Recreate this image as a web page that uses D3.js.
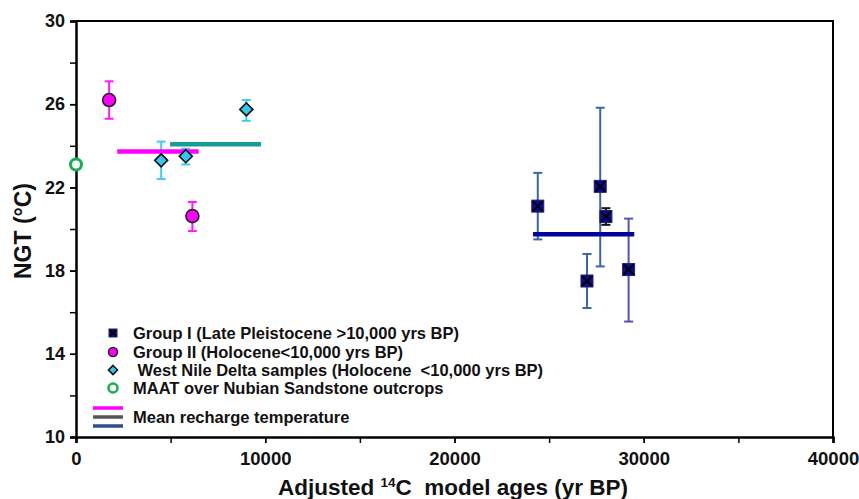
<!DOCTYPE html>
<html>
<head>
<meta charset="utf-8">
<script src="https://cdn.jsdelivr.net/npm/d3@7"></script>
<style>
  body { margin: 0; background: #fff; }
  svg { display: block; }
  text { font-family: "Liberation Sans", Arial, sans-serif; font-weight: bold; fill: #111; white-space: pre; }
</style>
</head>
<body>
<svg id="chart"></svg>
<script>
// Group I (Late Pleistocene) - age, NGT, error low/high
const groupIAge = [24400, 27700, 28000, 27000, 29200];
const groupINgt = [21.1, 22.05, 20.6, 17.5, 18.05];
const groupILo  = [19.5, 18.2, 20.2, 16.2, 15.55];
const groupIHi  = [22.7, 25.83, 21.0, 18.8, 20.5];

// Group II (Holocene)
const groupIIAge = [1750, 6150];
const groupIINgt = [26.2, 20.62];
const groupIILo  = [25.3, 19.9];
const groupIIHi  = [27.1, 21.3];

// West Nile Delta samples
const deltaAge = [4500, 5800, 9000];
const deltaNgt = [23.3, 23.5, 25.75];
const deltaLo  = [22.4, 23.1, 25.2];
const deltaHi  = [24.2, 23.86, 26.2];

// MAAT over Nubian Sandstone outcrops
const maatAge = [0];
const maatNgt = [23.1];

// mean recharge temperatures: [ageFrom, ageTo, ngt]
const meanGroupI = [24150, 29500, 19.75];
const meanGroupII = [2180, 6480, 23.73];
const meanDelta = [4970, 9780, 24.07];

const xTicks = [0, 10000, 20000, 30000, 40000];
const yTicks = [10, 14, 18, 22, 26, 30];

const legendLabels = [
    'Group I (Late Pleistocene >10,000 yrs BP)',
    'Group II (Holocene<10,000 yrs BP)',
    ' West Nile Delta samples (Holocene  <10,000 yrs BP)',
    'MAAT over Nubian Sandstone outcrops',
    'Mean recharge temperature'
];

const width = 859, height = 499;
const margin = { top: 21, right: 26, bottom: 62, left: 76 };

const svg = d3.select('#chart').attr('width', width).attr('height', height);

const x = d3.scaleLinear().domain([0, 40000]).range([margin.left, width - margin.right]);
const y = d3.scaleLinear().domain([10, 30]).range([height - margin.bottom, margin.top]);

// frame (top + right)
svg.append('path')
    .attr('d', `M${x(0)},${y(30)}H${x(40000)}V${y(10)}`)
    .attr('fill', 'none')
    .attr('stroke', '#000')
    .attr('stroke-width', 2);

// minor ticks
const xAxisMinor = d3.axisBottom(x).tickValues(d3.range(0, 40001, 5000)).tickSize(6).tickFormat('');
const yAxisMinor = d3.axisLeft(y).tickValues(d3.range(10, 31, 2)).tickSize(6).tickFormat('');
const gxm = svg.append('g').attr('transform', `translate(0,${y(10)})`).call(xAxisMinor);
const gym = svg.append('g').attr('transform', `translate(${x(0)},0)`).call(yAxisMinor);

// axes with labels
const gx = svg.append('g')
    .attr('transform', `translate(0,${y(10)})`)
    .call(d3.axisBottom(x).tickValues(xTicks).tickSize(6).tickPadding(9).tickFormat(d3.format('d')));
const gy = svg.append('g')
    .attr('transform', `translate(${x(0)},0)`)
    .call(d3.axisLeft(y).tickValues(yTicks).tickSize(6).tickPadding(5));

[gxm, gym, gx, gy].forEach(g => {
    g.select('.domain').attr('stroke', '#000').attr('stroke-width', 2);
    g.selectAll('.tick line').attr('stroke', '#000').attr('stroke-width', 1.5);
});
gx.selectAll('.tick text').style('font-size', '18.5px').attr('fill', '#111');
gy.selectAll('.tick text').style('font-size', '18px').attr('fill', '#111');

// axis titles
svg.append('text')
    .attr('transform', `translate(31,231) rotate(-90)`)
    .attr('text-anchor', 'middle')
    .style('font-size', '23px')
    .text('NGT (°C)');

const xt = svg.append('text')
    .attr('x', 453)
    .attr('y', 495)
    .attr('text-anchor', 'middle')
    .style('font-size', '22.5px');
xt.append('tspan').text('Adjusted ');
xt.append('tspan').attr('dy', -8).style('font-size', '13.5px').text('14');
xt.append('tspan').attr('dy', 8).text('C  model ages (yr BP)');

// helpers
function errorBars(ages, lo, hi, colors) {
    const g = svg.append('g');
    ages.forEach((a, i) => {
        const c = Array.isArray(colors) ? colors[i] : colors;
        g.append('line')
            .attr('x1', x(a)).attr('x2', x(a))
            .attr('y1', y(lo[i])).attr('y2', y(hi[i]))
            .attr('stroke', c).attr('stroke-width', 2);
        [lo[i], hi[i]].forEach(v => {
            g.append('line')
                .attr('x1', x(a) - 4.5).attr('x2', x(a) + 4.5)
                .attr('y1', y(v)).attr('y2', y(v))
                .attr('stroke', c).attr('stroke-width', 2);
        });
    });
}

function meanLine(m, color) {
    svg.append('line')
        .attr('x1', x(m[0])).attr('x2', x(m[1]))
        .attr('y1', y(m[2])).attr('y2', y(m[2]))
        .attr('stroke', color).attr('stroke-width', 4.5);
}

function squareX(g, cx, cy, s) {
    g.append('rect')
        .attr('x', cx - s / 2).attr('y', cy - s / 2)
        .attr('width', s).attr('height', s)
        .attr('fill', '#0a0a96').attr('stroke', '#222266').attr('stroke-width', 1);
    g.append('path')
        .attr('d', `M${cx - s / 2 + 1},${cy - s / 2 + 1}L${cx + s / 2 - 1},${cy + s / 2 - 1}M${cx + s / 2 - 1},${cy - s / 2 + 1}L${cx - s / 2 + 1},${cy + s / 2 - 1}`)
        .attr('stroke', '#000').attr('stroke-width', 2);
}

function diamond(g, cx, cy, r) {
    g.append('path')
        .attr('d', `M${cx},${cy - r}L${cx + r},${cy}L${cx},${cy + r}L${cx - r},${cy}Z`)
        .attr('fill', '#33c6ee').attr('stroke', '#111').attr('stroke-width', 1.6);
}

function circle(g, cx, cy, r) {
    g.append('circle')
        .attr('cx', cx).attr('cy', cy).attr('r', r)
        .attr('fill', '#ff00ff').attr('stroke', '#222').attr('stroke-width', 1.6);
}

function ring(g, cx, cy, r, w) {
    g.append('circle')
        .attr('cx', cx).attr('cy', cy).attr('r', r)
        .attr('fill', '#fff').attr('stroke', '#19b04f').attr('stroke-width', w);
}

// error bars
errorBars(groupIAge, groupILo, groupIHi, ['#3a66a8', '#3a66a8', '#111', '#3a66a8', '#5353b8']);
errorBars(groupIIAge, groupIILo, groupIIHi, '#ff1aff');
errorBars(deltaAge, deltaLo, deltaHi, '#3ccdf5');

// mean lines
meanLine(meanGroupII, '#ff00ff');
meanLine(meanDelta, '#179c96');
meanLine(meanGroupI, '#00009c');

// markers
const marks = svg.append('g');
groupIAge.forEach((a, i) => squareX(marks, x(a), y(groupINgt[i]), 12));
groupIIAge.forEach((a, i) => circle(marks, x(a), y(groupIINgt[i]), 6.5));
deltaAge.forEach((a, i) => diamond(marks, x(a), y(deltaNgt[i]), 6.5));
maatAge.forEach((a, i) => ring(marks, x(a), y(maatNgt[i]), 5.5, 3));

// legend
const leg = svg.append('g');
const legX = 113, legTextX = 133;
const rowY = [333, 352, 370, 388];
squareX(leg, legX, rowY[0], 8);
circle(leg, legX, rowY[1], 4.5);
diamond(leg, legX, rowY[2], 4.5);
ring(leg, legX, rowY[3], 4.5, 2.6);
rowY.forEach((ry, i) => {
    leg.append('text')
        .attr('x', legTextX).attr('y', ry + 6)
        .style('font-size', '16.5px')
        .text(legendLabels[i]);
});
[['#ff00ff', 408], ['#555555', 417], ['#2b4f8a', 426]].forEach(([c, ly]) => {
    leg.append('line')
        .attr('x1', 93).attr('x2', 123)
        .attr('y1', ly).attr('y2', ly)
        .attr('stroke', c).attr('stroke-width', 3.5);
});
leg.append('text')
    .attr('x', legTextX).attr('y', 423)
    .style('font-size', '16.5px')
    .text(legendLabels[4]);
</script>
</body>
</html>
